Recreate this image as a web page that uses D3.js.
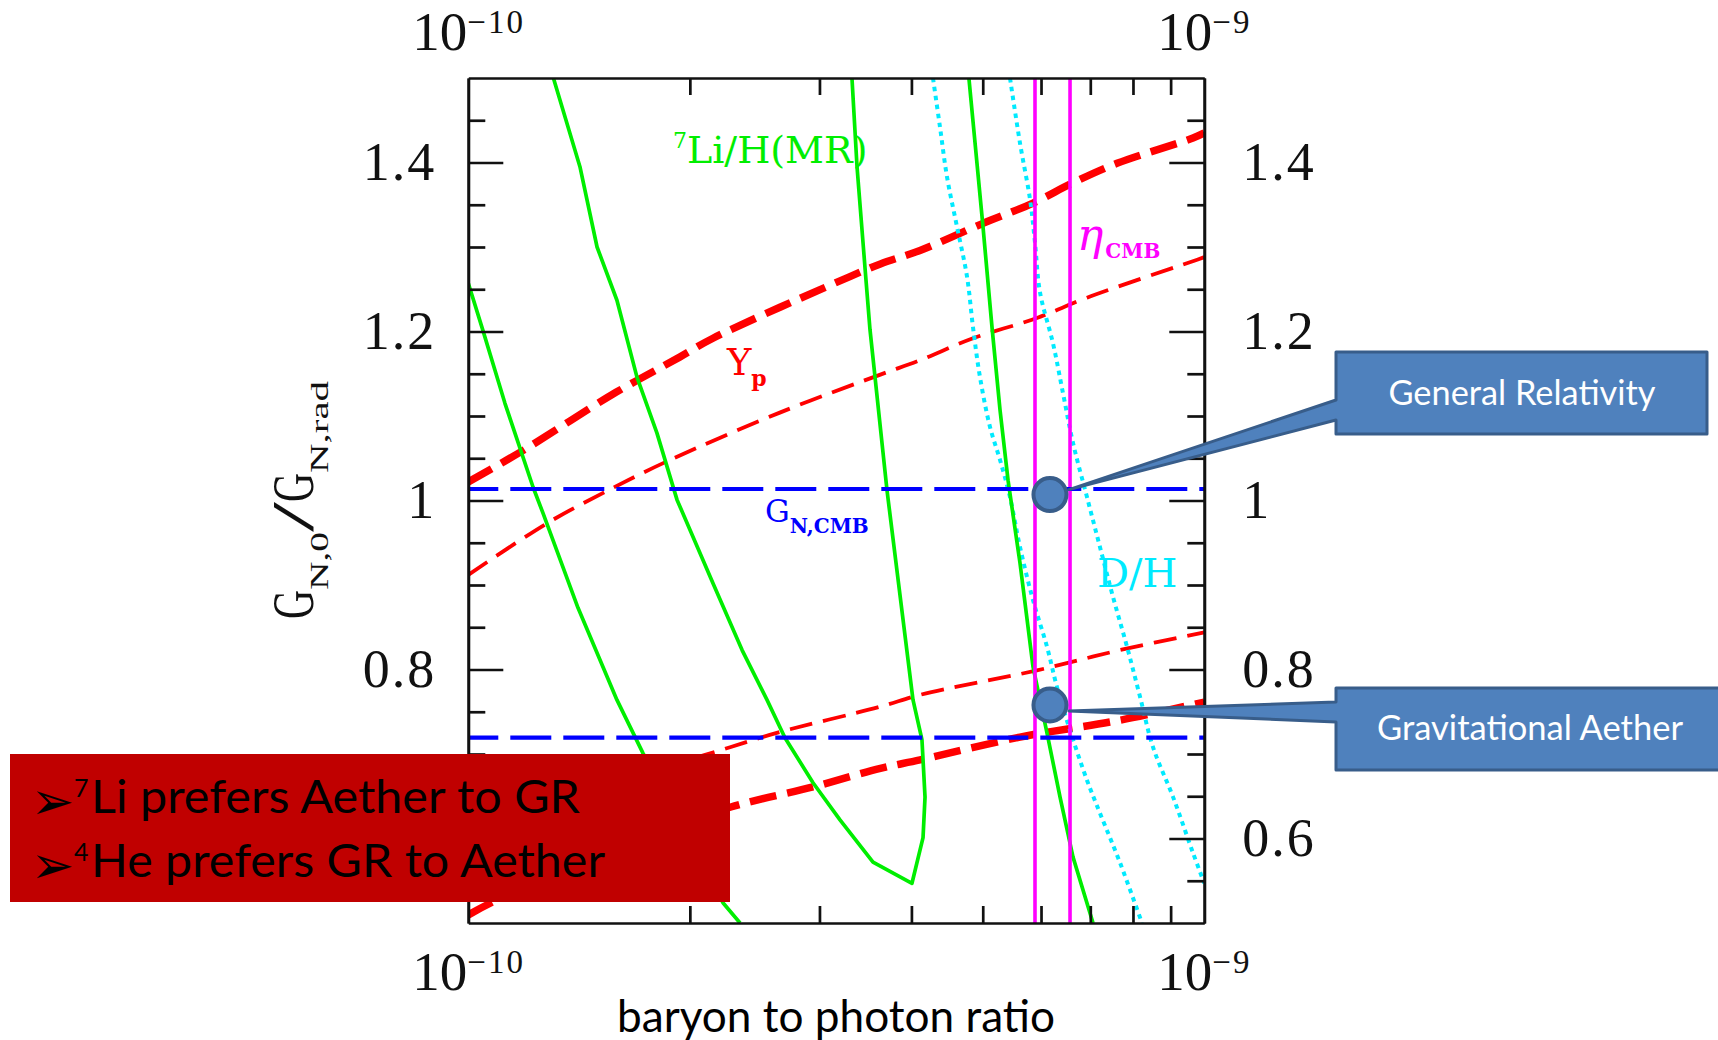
<!DOCTYPE html>
<html>
<head>
<meta charset="utf-8">
<script src="https://cdn.jsdelivr.net/npm/d3@7"></script>
<style>
  body { margin: 0; background: #fff; }
  svg { display: block; }
</style>
</head>
<body>
<div class="chart"></div>
<script>
// Data: eta in units of 1e-10, y = G_N,0 / G_N,rad
//= ================================
var li1Eta = [1.0, 1.047, 1.1215, 1.2244, 1.2633, 1.4094, 1.592, 1.727, 2.218, 2.34];
var li1G = [1.257, 1.201, 1.115, 1.016, 0.985, 0.873, 0.764, 0.701, 0.524, 0.5];

// closed-ish 7Li contour (left branch down, right branch back up)
var li2Eta = [1.305, 1.418, 1.496, 1.592, 1.695, 1.804, 1.921, 2.150, 2.355, 2.546, 2.694, 2.940, 3.199, 3.547, 4.007, 4.148, 4.174, 4.134, 4.020, 3.706, 3.514, 3.459, 3.374, 3.321];
var li2G = [1.5, 1.395, 1.300, 1.237, 1.146, 1.080, 1.001, 0.902, 0.823, 0.764, 0.719, 0.666, 0.622, 0.572, 0.547, 0.601, 0.649, 0.717, 0.764, 1.012, 1.202, 1.276, 1.395, 1.5];

var li3Eta = [4.788, 5.004, 5.147, 5.278, 5.412, 5.618, 5.852, 6.113, 6.368, 6.632, 7.06];
var li3G = [1.5, 1.324, 1.205, 1.107, 1.024, 0.926, 0.803, 0.725, 0.649, 0.578, 0.5];

var dh1Eta = [4.279, 4.374, 4.471, 4.613, 4.760, 4.850, 4.957, 5.115, 5.278, 5.445, 5.618, 5.852, 6.113, 6.308, 6.570, 6.928, 7.215, 7.685, 8.229];
var dh1G = [1.5, 1.442, 1.383, 1.324, 1.265, 1.205, 1.146, 1.087, 1.048, 1.004, 0.945, 0.882, 0.827, 0.779, 0.728, 0.669, 0.630, 0.571, 0.5];

var dh2Eta = [5.445, 5.618, 5.798, 5.888, 5.982, 6.229, 6.427, 6.632, 6.928, 7.215, 7.515, 7.852, 8.177, 8.518, 9.07, 9.652, 10.0];
var dh2G = [1.5, 1.423, 1.356, 1.305, 1.246, 1.186, 1.127, 1.068, 1.004, 0.945, 0.886, 0.827, 0.768, 0.708, 0.649, 0.583, 0.547];

var ypHiThickEta = [1.0, 1.186, 1.573, 1.94, 2.15, 3.30, 3.63, 4.109, 5.004, 5.852, 6.632, 7.61, 9.652, 10.0];
var ypHiThickG = [1.022, 1.059, 1.126, 1.170, 1.192, 1.265, 1.280, 1.296, 1.328, 1.352, 1.376, 1.399, 1.429, 1.435];

var ypHiThinEta = [1.0, 1.279, 1.573, 1.88, 2.65, 3.63, 4.109, 4.850, 5.925, 6.928, 9.78, 10.0];
var ypHiThinG = [0.912, 0.973, 1.015, 1.048, 1.104, 1.149, 1.166, 1.192, 1.216, 1.240, 1.285, 1.288];

var ypLoThinEta = [1.0, 1.573, 2.268, 2.65, 3.63, 4.109, 5.925, 7.685, 10.0];
var ypLoThinG = [0.600, 0.665, 0.708, 0.726, 0.756, 0.770, 0.799, 0.823, 0.844];

var ypLoThickEta = [1.0, 1.08, 1.6, 2.268, 2.94, 3.63, 4.109, 5.618, 7.685, 10.0];
var ypLoThickG = [0.5095, 0.525, 0.59, 0.637, 0.661, 0.683, 0.693, 0.720, 0.740, 0.7615];

var etaCMB = [5.888, 6.570];
var gnCMB = [1.0136, 0.7193];

var grPoint = [6.17, 1.007];
var aetherPoint = [6.17, 0.758];

var minorX = [2, 3, 4, 5, 6, 7, 8, 9];
var majorY = [0.6, 0.8, 1.0, 1.2, 1.4];
var minorY = [0.55, 0.65, 0.7, 0.75, 0.85, 0.9, 0.95, 1.05, 1.1, 1.15, 1.25, 1.3, 1.35, 1.45];

// Step 0: Set up our chart
//= ================================
var svgWidth = 1718;
var svgHeight = 1040;
var margin = { top: 78, left: 468.3 };
var width = 736;
var height = 845;

var svgRoot = d3
  .select(".chart")
  .append("svg")
  .attr("width", svgWidth)
  .attr("height", svgHeight);

var chart = svgRoot
  .append("g")
  .attr("transform", "translate(" + margin.left + "," + margin.top + ")");

var xLogScale = d3.scaleLog().domain([1, 10]).range([0, width]);
var yLinearScale = d3.scaleLinear().domain([0.5, 1.5]).range([height, 0]);

chart.append("clipPath")
  .attr("id", "plotclip")
  .append("rect")
  .attr("width", width)
  .attr("height", height);

var plot = chart.append("g").attr("clip-path", "url(#plotclip)");

function zipCurve(xs, ys) {
  return xs.map(function(d, i) { return [d, ys[i]]; });
}

var lineLinear = d3.line()
  .x(function(d) { return xLogScale(d[0]); })
  .y(function(d) { return yLinearScale(d[1]); });

var lineSmooth = d3.line()
  .x(function(d) { return xLogScale(d[0]); })
  .y(function(d) { return yLinearScale(d[1]); })
  .curve(d3.curveCatmullRom.alpha(0.5));

// Yp curves (red dashed)
var redCurves = [
  { data: zipCurve(ypHiThickEta, ypHiThickG), w: 7.5, dash: "27,11" },
  { data: zipCurve(ypLoThickEta, ypLoThickG), w: 7.5, dash: "27,11" },
  { data: zipCurve(ypHiThinEta, ypHiThinG), w: 3.8, dash: "23,11" },
  { data: zipCurve(ypLoThinEta, ypLoThinG), w: 3.8, dash: "23,11" }
];
redCurves.forEach(function(c) {
  plot.append("path")
    .attr("d", lineSmooth(c.data))
    .attr("fill", "none")
    .attr("stroke", "#ff0000")
    .attr("stroke-width", c.w)
    .attr("stroke-dasharray", c.dash);
});

// D/H curves (cyan dotted)
[zipCurve(dh1Eta, dh1G), zipCurve(dh2Eta, dh2G)].forEach(function(c) {
  plot.append("path")
    .attr("d", lineSmooth(c))
    .attr("fill", "none")
    .attr("stroke", "#00eaff")
    .attr("stroke-width", 4)
    .attr("stroke-dasharray", "4.5,4.5");
});

// 7Li curves (green solid)
[zipCurve(li1Eta, li1G), zipCurve(li2Eta, li2G), zipCurve(li3Eta, li3G)].forEach(function(c) {
  plot.append("path")
    .attr("d", lineLinear(c))
    .attr("fill", "none")
    .attr("stroke", "#00ee00")
    .attr("stroke-width", 3.7)
    .attr("stroke-linejoin", "round");
});

// eta_CMB (magenta verticals)
plot.selectAll(".eta-cmb")
  .data(etaCMB)
  .enter()
  .append("line")
  .attr("class", "eta-cmb")
  .attr("x1", function(d) { return xLogScale(d); })
  .attr("x2", function(d) { return xLogScale(d); })
  .attr("y1", 0)
  .attr("y2", height)
  .attr("stroke", "#ff00ff")
  .attr("stroke-width", 3.6);

// G_N,CMB (blue dashed horizontals)
plot.selectAll(".gn-cmb")
  .data(gnCMB)
  .enter()
  .append("line")
  .attr("class", "gn-cmb")
  .attr("x1", 0)
  .attr("x2", width)
  .attr("y1", function(d) { return yLinearScale(d); })
  .attr("y2", function(d) { return yLinearScale(d); })
  .attr("stroke", "#0000ff")
  .attr("stroke-width", 4.2)
  .attr("stroke-dasharray", "41,12")
  .attr("stroke-dashoffset", 11);

// Axes (ticks point inward, frame from the domain paths)
//= ================================
function fmtY(d) { return d === 1 ? "1" : d3.format(".1f")(d); }
// left 0.6 sits under the red box in the original, so it is left out there
function fmtYLeft(d) { return d === 0.6 ? "" : fmtY(d); }

var axes = [
  chart.append("g").attr("transform", "translate(0," + height + ")")
    .call(d3.axisBottom(xLogScale).tickValues(minorX).tickFormat("").tickSizeInner(-17).tickSizeOuter(0)),
  chart.append("g")
    .call(d3.axisTop(xLogScale).tickValues(minorX).tickFormat("").tickSizeInner(-17).tickSizeOuter(0)),
  chart.append("g")
    .call(d3.axisLeft(yLinearScale).tickValues(minorY).tickFormat("").tickSizeInner(-17).tickSizeOuter(0)),
  chart.append("g")
    .call(d3.axisLeft(yLinearScale).tickValues(majorY).tickFormat(fmtYLeft).tickSizeInner(-35).tickSizeOuter(0).tickPadding(32)),
  chart.append("g").attr("transform", "translate(" + width + ",0)")
    .call(d3.axisRight(yLinearScale).tickValues(minorY).tickFormat("").tickSizeInner(-17).tickSizeOuter(0)),
  chart.append("g").attr("transform", "translate(" + width + ",0)")
    .call(d3.axisRight(yLinearScale).tickValues(majorY).tickFormat(fmtY).tickSizeInner(-35).tickSizeOuter(0).tickPadding(38))
];
axes.forEach(function(a) {
  a.attr("font-family", "'Liberation Serif', serif").attr("font-size", 54);
  a.selectAll("path, line").attr("stroke", "#111").attr("stroke-width", 2.7);
  a.selectAll("text").attr("fill", "#111").attr("letter-spacing", 2);
});

// Powers of ten at both ends of the x axis, top and bottom
function addPow(parent, xpos, ypos, exp) {
  var t = parent.append("text")
    .attr("x", xpos)
    .attr("y", ypos)
    .attr("font-family", "'Liberation Serif', serif")
    .attr("fill", "#111");
  t.append("tspan").attr("font-size", 55).text("10");
  t.append("tspan").attr("font-size", 33).attr("dy", -17).attr("letter-spacing", 2).text("\u2212" + exp);
}
addPow(chart, xLogScale(1) - 56, -28, "10");
addPow(chart, xLogScale(10) - 47, -28, "9");
addPow(chart, xLogScale(1) - 56, height + 67, "10");
addPow(chart, xLogScale(10) - 47, height + 67, "9");

// Curve labels
var labelFont = "'DejaVu Serif', serif";
var liLabel = chart.append("text")
  .attr("x", xLogScale(1.897))
  .attr("y", yLinearScale(1.3994))
  .attr("font-family", labelFont)
  .attr("fill", "#00ee00");
liLabel.append("tspan").attr("font-size", 22).attr("dy", -15).text("7");
liLabel.append("tspan").attr("font-size", 38).attr("dy", 15).text("Li/H(MR)");

var ypLabel = chart.append("text")
  .attr("x", xLogScale(2.246))
  .attr("y", yLinearScale(1.1485))
  .attr("font-family", labelFont)
  .attr("fill", "#ff0000");
ypLabel.append("tspan").attr("font-size", 37).text("Y");
ypLabel.append("tspan").attr("font-size", 22).attr("font-weight", "bold").attr("dy", 11).text("p");

var gnLabel = chart.append("text")
  .attr("x", xLogScale(2.53))
  .attr("y", yLinearScale(0.9746))
  .attr("font-family", labelFont)
  .attr("fill", "#0000ff");
gnLabel.append("tspan").attr("font-size", 31).text("G");
gnLabel.append("tspan").attr("font-size", 20).attr("font-weight", "bold").attr("dy", 11).text("N,CMB");

var etaLabel = chart.append("text")
  .attr("x", xLogScale(6.714))
  .attr("y", yLinearScale(1.2964))
  .attr("font-family", labelFont)
  .attr("fill", "#ff00ff");
etaLabel.append("tspan").attr("font-size", 44).attr("font-style", "italic").text("\u03b7");
etaLabel.append("tspan").attr("font-size", 20).attr("font-weight", "bold").attr("dy", 8).attr("dx", 2).text("CMB");

chart.append("text")
  .attr("x", xLogScale(7.148))
  .attr("y", yLinearScale(0.8976))
  .attr("font-family", labelFont)
  .attr("font-size", 40)
  .attr("fill", "#00eaff")
  .text("D/H");

// Axis titles
var yTitle = svgRoot.append("text")
  .attr("transform", "translate(313,500) rotate(-90)")
  .attr("text-anchor", "middle")
  .attr("font-family", "'Liberation Serif', serif")
  .attr("fill", "#111");
yTitle.append("tspan").attr("font-size", 59).attr("textLength", 29).attr("lengthAdjust", "spacingAndGlyphs").text("G");
yTitle.append("tspan").attr("font-size", 25).attr("dy", 15).attr("textLength", 58).attr("lengthAdjust", "spacingAndGlyphs").text("N,0");
yTitle.append("tspan").attr("font-size", 59).attr("dy", -15).attr("textLength", 30).attr("lengthAdjust", "spacingAndGlyphs").text("/");
yTitle.append("tspan").attr("font-size", 59).attr("textLength", 29).attr("lengthAdjust", "spacingAndGlyphs").text("G");
yTitle.append("tspan").attr("font-size", 25).attr("dy", 15).attr("textLength", 92).attr("lengthAdjust", "spacingAndGlyphs").text("N,rad");

svgRoot.append("text")
  .attr("x", 617)
  .attr("y", 1032)
  .attr("font-family", "Lato, 'Open Sans', sans-serif")
  .attr("font-size", 44)
  .attr("textLength", 438)
  .attr("lengthAdjust", "spacingAndGlyphs")
  .attr("fill", "#000")
  .text("baryon to photon ratio");

// Callouts
//= ================================
function addCallout(pt, box, join, label, textX, textY, textLen) {
  var px = margin.left + xLogScale(pt[0]);
  var py = margin.top + yLinearScale(pt[1]);
  var tipX = px + 19;
  var tipY = box.y < py - 100 ? py - 5 : py + 6;
  var pts = [
    [box.x, box.y], [box.x + box.w, box.y], [box.x + box.w, box.y + box.h], [box.x, box.y + box.h],
    [box.x, join[1]], [tipX, tipY], [box.x, join[0]]
  ];
  svgRoot.append("path")
    .attr("d", "M" + pts.map(function(p) { return p[0] + "," + p[1]; }).join("L") + "Z")
    .attr("fill", "#4f81bd")
    .attr("stroke", "#385d8a")
    .attr("stroke-width", 3)
    .attr("stroke-linejoin", "round");
  svgRoot.append("circle")
    .attr("cx", px)
    .attr("cy", py)
    .attr("r", 16.5)
    .attr("fill", "#4f81bd")
    .attr("stroke", "#385d8a")
    .attr("stroke-width", 4);
  svgRoot.append("text")
    .attr("x", textX)
    .attr("y", textY)
    .attr("text-anchor", "middle")
    .attr("font-family", "Lato, 'Open Sans', sans-serif")
    .attr("font-size", 35)
    .attr("textLength", textLen)
    .attr("lengthAdjust", "spacingAndGlyphs")
    .attr("fill", "#fff")
    .text(label);
}
addCallout(grPoint, { x: 1336, y: 352, w: 371, h: 82 }, [400, 420], "General Relativity", 1522, 405, 267);
addCallout(aetherPoint, { x: 1336, y: 688, w: 400, h: 82 }, [702, 722], "Gravitational Aether", 1530, 740, 306);

// Red summary box
//= ================================
svgRoot.append("rect")
  .attr("x", 10)
  .attr("y", 754)
  .attr("width", 720)
  .attr("height", 148)
  .attr("fill", "#c00000");

var boxLines = [
  { sup: "7", text: "Li prefers Aether to GR", y: 813, len: 489 },
  { sup: "4", text: "He prefers GR to Aether", y: 877, len: 514 }
];
boxLines.forEach(function(l) {
  var t = svgRoot.append("text")
    .attr("x", 31)
    .attr("y", l.y)
    .attr("font-family", "Lato, 'Open Sans', sans-serif")
    .attr("fill", "#000");
  t.append("tspan")
    .attr("font-family", "'DejaVu Sans', sans-serif")
    .attr("font-size", 52)
    .attr("dy", 6)
    .text("\u27a2");
  t.append("tspan")
    .attr("x", 74)
    .attr("dy", -22)
    .attr("font-size", 25)
    .text(l.sup);
  t.append("tspan")
    .attr("x", 91)
    .attr("dy", 16)
    .attr("font-size", 47)
    .attr("textLength", l.len)
    .attr("lengthAdjust", "spacingAndGlyphs")
    .text(l.text);
});
</script>
</body>
</html>
